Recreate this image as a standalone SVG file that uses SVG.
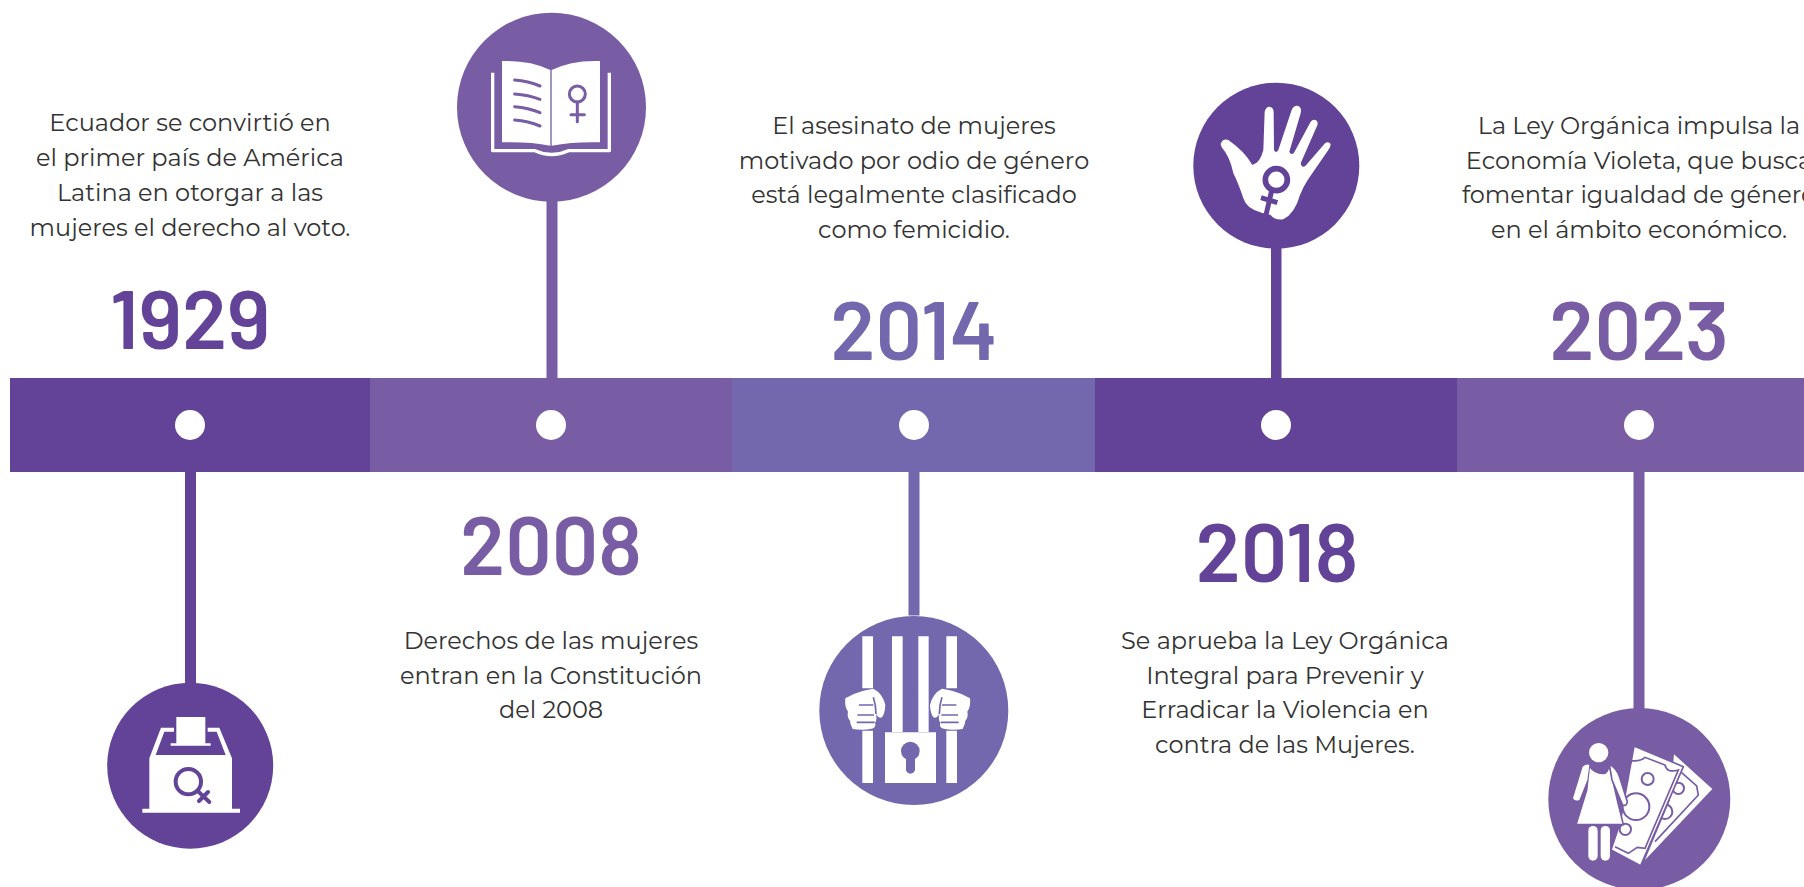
<svg xmlns="http://www.w3.org/2000/svg" xmlns:xlink="http://www.w3.org/1999/xlink" width="1804" height="887" viewBox="0 0 1804 887">
<style>
.t{font-family:Montserrat,"Open Sans","Liberation Sans",sans-serif;font-size:24px;fill:#333;text-anchor:middle}
.y{font-family:Barlow,Roboto,"Liberation Sans",sans-serif;font-weight:600;font-size:82px;text-anchor:middle}
.w{fill:#fff}
.a{fill:#624397}.b{fill:#785da4}.c{fill:#7367ad}
.la{fill:none;stroke:#624397}.lb{fill:none;stroke:#785da4}.lc{fill:none;stroke:#7367ad}
</style>
<defs>
<g id="fist">
<path class="w" d="M136 295Q160 280 190 272L220 266Q248 280 256 315Q255 340 246 352Q236 356 228 342Q232 360 225 368Q230 382 215 386Q190 392 158 387Q150 372 150 362Q140 350 144 335Q133 320 136 295Z"/>
<path class="lc" stroke-width="5" d="M177 315H220M172 345H222M170 367H224M220 292Q228 315 228 342"/>
</g>
</defs>
<rect width="1804" height="887" fill="#fff"/>
<g id="connectors">
<rect class="a" x="185" y="470" width="11" height="220"/>
<rect class="b" x="546.500" y="195" width="11" height="185"/>
<rect class="c" x="908.500" y="470" width="11" height="145.500"/>
<rect class="a" x="1271" y="240" width="10.500" height="140"/>
<rect class="b" x="1633.500" y="470" width="11" height="245"/>
</g>
<g id="bar">
<rect class="a" x="10" y="378" width="360" height="94"/>
<rect class="b" x="370" y="378" width="362" height="94"/>
<rect class="c" x="732" y="378" width="363" height="94"/>
<rect class="a" x="1095" y="378" width="362" height="94"/>
<rect class="b" x="1457" y="378" width="347" height="94"/>
</g>
<g id="node-1929">
<circle class="w" cx="190" cy="425" r="15"/>
<text class="y a" x="190" y="349">1929</text>
<text class="t" x="190" y="131">Ecuador se convirtió en</text>
<text class="t" x="190" y="166">el primer país de América</text>
<text class="t" x="190" y="201">Latina en otorgar a las</text>
<text class="t" x="190" y="236">mujeres el derecho al voto.</text>
<circle class="a" cx="190.200" cy="765.700" r="83"/>
<g transform="translate(60 660) scale(.33333)">
<path class="w" d="M349 171H436V250H349ZM332 250H452V257H332ZM268 295L303 203H342V215H313L287 285H497L470 215H443V203H478L516 295V446H540V458H247V446H268Z"/>
<circle class="la" cx="385" cy="365" r="38" stroke-width="12"/>
<path class="la" stroke-width="12" stroke-linecap="round" d="M412 392L448 426M417 423L444 396"/>
</g>
</g>
<g id="node-2008">
<circle class="w" cx="551" cy="425" r="15"/>
<text class="y b" x="551" y="575">2008</text>
<text class="t" x="551" y="649">Derechos de las mujeres</text>
<text class="t" x="551" y="684">entran en la Constitución</text>
<text class="t" x="551" y="718">del 2008</text>
<circle class="b" cx="551.500" cy="107.200" r="94.500"/>
<g transform="translate(440 0) scale(.33333)">
<path class="w" d="M186 183Q270 180 331 210V437Q270 425 186 427ZM335 210Q395 180 480 183V427Q400 425 335 437Z"/>
<path fill="none" stroke="#fff" stroke-width="10" stroke-linejoin="round" d="M158 218V452H285Q335 475 385 452H508V218"/>
<path class="lb" stroke-width="9" stroke-linecap="round" d="M224 240Q265 243 300 258M224 282Q265 285 300 298M224 320Q265 323 300 338M224 360Q265 363 300 378"/>
<circle class="lb" cx="412" cy="282" r="24" stroke-width="9"/>
<path class="lb" stroke-width="9" stroke-linecap="round" d="M412 306V365M393 344H433"/>
</g>
</g>
<g id="node-2014">
<circle class="w" cx="914" cy="425" r="15"/>
<text class="y c" x="914" y="359.500">2014</text>
<text class="t" x="914" y="134">El asesinato de mujeres</text>
<text class="t" x="914" y="168.500">motivado por odio de género</text>
<text class="t" x="914" y="203">está legalmente clasificado</text>
<text class="t" x="914" y="238">como femicidio.</text>
<circle class="c" cx="913.800" cy="710.500" r="94.500"/>
<g transform="translate(800 600) scale(.33333)">
<path class="w" d="M187 109H219V265H187ZM187 392H219V549H187ZM276 109H308V396H276ZM355 109H386V396H355ZM439 109H471V265H439ZM439 392H471V549H439ZM255 397H408V549H255Z"/>
<use href="#fist" xlink:href="#fist"/>
<use href="#fist" xlink:href="#fist" transform="translate(646 0) scale(-1 1)"/>
<circle class="c" cx="331" cy="453" r="28"/>
<rect class="c" x="318" y="455" width="27" height="66" rx="13.500"/>
</g>
</g>
<g id="node-2018">
<circle class="w" cx="1276" cy="425" r="15"/>
<text class="y a" x="1277" y="582">2018</text>
<text class="t" x="1285" y="649">Se aprueba la Ley Orgánica</text>
<text class="t" x="1285" y="683.500">Integral para Prevenir y</text>
<text class="t" x="1285" y="718">Erradicar la Violencia en</text>
<text class="t" x="1285" y="753">contra de las Mujeres.</text>
<circle class="a" cx="1276.300" cy="165.700" r="83"/>
<g transform="translate(1180 70) scale(.33333)">
<path class="w" d="M122 222Q128 205 145 210Q195 245 217 285Q240 280 250 240L254 125Q258 110 268 110Q282 112 281 130L282 240Q288 252 295 240L335 120Q342 105 355 108Q366 113 362 130L328 245Q333 258 342 248L392 155Q400 145 410 152Q416 160 410 170L362 280Q365 295 376 288L435 220Q445 212 452 222Q452 232 445 240L383 330Q370 350 360 375Q345 430 310 448Q285 452 272 435L245 428Q200 418 190 385Q175 340 160 310Q150 260 125 232Z"/>
<circle class="la" cx="289" cy="329" r="33" stroke-width="17"/>
<path class="la" stroke-width="15" d="M275 362L258 435M243 383L292 398"/>
</g>
</g>
<g id="node-2023">
<circle class="w" cx="1639" cy="425" r="15"/>
<text class="y b" x="1639" y="359.500">2023</text>
<text class="t" x="1639" y="134">La Ley Orgánica impulsa la</text>
<text class="t" x="1639" y="169">Economía Violeta, que busca</text>
<text class="t" x="1639" y="203">fomentar igualdad de género</text>
<text class="t" x="1639" y="238">en el ámbito económico.</text>
<circle class="b" cx="1639.300" cy="799" r="91"/>
<g transform="translate(1530 700) scale(.33333)">
<path class="w" d="M432 163L547 267L345 480L420 300Z"/>
<path class="lb" stroke-width="5" d="M448 212L500 258L505 285L375 425"/>
<circle class="lb" cx="445" cy="265" r="17" stroke-width="6"/>
<circle class="lb" cx="405" cy="335" r="22" stroke-width="6"/>
<path class="w" stroke="#785da4" stroke-width="5" d="M312 138L460 200L332 497L243 450L270 370Z"/>
<path class="lb" stroke-width="5" d="M285 225L305 182Q330 185 345 172L405 195Q410 220 445 210L345 445L322 442L295 460L255 440"/>
<circle class="lb" cx="353" cy="237" r="18" stroke-width="6"/>
<circle class="w" stroke="#785da4" stroke-width="6" cx="318" cy="320" r="40"/>
<circle class="w" stroke="#785da4" stroke-width="6" cx="286" cy="388" r="17"/>
<circle class="w" cx="206" cy="158" r="29"/>
<path class="w" stroke="#785da4" stroke-width="5" d="M178 198Q195 222 222 220Q232 220 238 195L262 300L280 374H138L170 270Z"/>
<path class="w" d="M158 200Q170 190 178 195L172 240L148 300Q135 305 129 295Z"/>
<path class="w" stroke="#785da4" stroke-width="5" d="M238 193Q262 205 270 235L292 305Q290 320 278 315L246 240Z"/>
<rect class="w" x="175" y="378" width="28" height="104" rx="14"/>
<rect class="w" x="212" y="378" width="28" height="104" rx="14"/>
</g>
</g>
</svg>
